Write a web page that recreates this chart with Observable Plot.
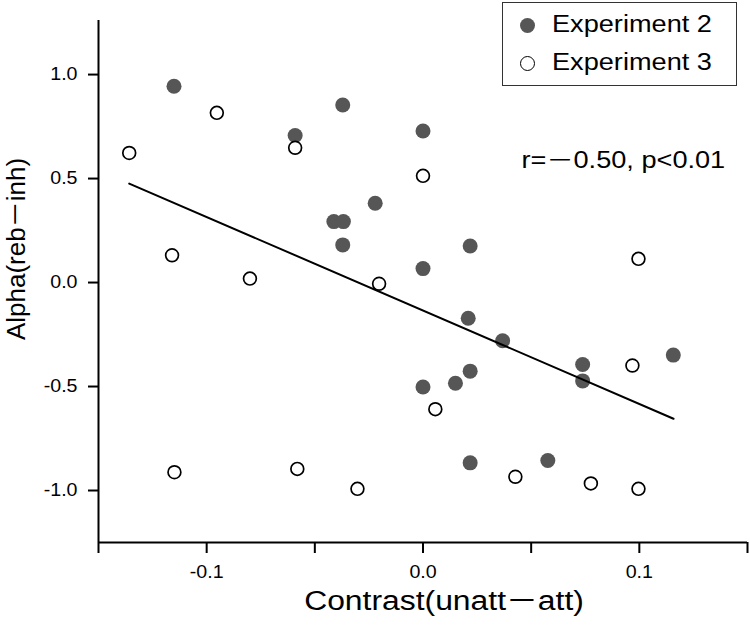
<!DOCTYPE html>
<html>
<head>
<meta charset="utf-8">
<script src="https://cdn.jsdelivr.net/npm/d3@7"></script>
<script src="https://cdn.jsdelivr.net/npm/@observablehq/plot@0.6"></script>
<style>
  body { margin: 0; background: #fff; }
  #wrap { position: relative; width: 750px; height: 635px; font-family: "Liberation Sans", Arial, "Noto Sans CJK SC", sans-serif; }
  #wrap svg { position: absolute; left: 0; top: 0; }
  #legend { position: absolute; left: 502px; top: 2px; width: 233px; height: 82px; border: 1.5px solid #333; background: #fff; }
  .lg-dot { position: absolute; width: 15px; height: 15px; border-radius: 50%; box-sizing: border-box; }
  .lg-lab { position: absolute; font-size: 23px; line-height: 24px; white-space: nowrap; color: #000; transform-origin: left center; transform: scaleX(1.18); }
  #ytitle { position: absolute; left: 16px; top: 249px; font-size: 26px; line-height: 26px; white-space: nowrap; color: #000; transform: translate(-50%, -50%) rotate(-90deg); }
</style>
</head>
<body>
<div id="wrap"></div>
<script>
// ---- data ----
const seriesNames = ["Experiment 2", "Experiment 3"];

// Experiment 2 (filled circles)
const exp2X = [-0.1151, -0.0591, -0.0371, 0.0000, -0.0221, -0.0412, -0.0368, -0.0371, 0.0218, 0.0000,
               0.0209, 0.0368, 0.0738, 0.0738, 0.1157, 0.0218, 0.0150, 0.0000, 0.0218, 0.0577];
const exp2Y = [0.944, 0.707, 0.854, 0.729, 0.381, 0.293, 0.293, 0.181, 0.176, 0.067,
               -0.172, -0.280, -0.394, -0.473, -0.349, -0.426, -0.484, -0.502, -0.867, -0.856];

// Experiment 3 (open circles)
const exp3X = [-0.1358, -0.0953, -0.0591, 0.0000, -0.1160, -0.0800, -0.0203, 0.0996, 0.0968, 0.0057,
               -0.1149, -0.0581, -0.0303, 0.0427, 0.0776, 0.0996];
const exp3Y = [0.623, 0.816, 0.648, 0.513, 0.131, 0.019, -0.006, 0.114, -0.399, -0.609,
               -0.912, -0.896, -0.992, -0.934, -0.966, -0.992];

// fitted regression line (end points)
const fitX = [-0.1358, 0.1158];
const fitY = [0.476, -0.655];

const xDomain = [-0.15, 0.15];
const yDomain = [-1.25, 1.26];
const xTicks = [-0.15, -0.1, -0.05, 0, 0.05, 0.1, 0.15];
const xTickLabels = ["", "-0.1", "", "0.0", "", "0.1", ""];
const yTicks = [-1, -0.5, 0, 0.5, 1];
const yTickLabels = ["-1.0", "-0.5", "0.0", "0.5", "1.0"];

const xTitle = "Contrast(unatt\uFF0Datt)";
const yTitle = "Alpha(reb\uFF0Dinh)";
const statText = "r=\uFF0D0.50, p<0.01";

// ---- build tables ----
const exp2 = exp2X.map((x, i) => ({x, y: exp2Y[i], series: seriesNames[0]}));
const exp3 = exp3X.map((x, i) => ({x, y: exp3Y[i], series: seriesNames[1]}));
const fit = fitX.map((x, i) => ({x, y: fitY[i]}));

const FONT = '"Liberation Sans", Arial, "Noto Sans CJK SC", sans-serif';

const chart = Plot.plot({
  width: 750,
  height: 635,
  marginLeft: 98,
  marginRight: 3,
  marginTop: 20,
  marginBottom: 93,
  x: {domain: xDomain},
  y: {domain: yDomain},
  style: {fontFamily: FONT, fontSize: "18px", color: "#000", background: "#fff", overflow: "visible"},
  marks: [
    Plot.axisX({ticks: xTicks, tickFormat: d => xTickLabels[xTicks.indexOf(d)], tickSize: 11, tickPadding: 12,
                strokeWidth: 2, label: null, fontSize: 18, fill: "#000"}),
    Plot.axisY({ticks: yTicks, tickFormat: d => yTickLabels[yTicks.indexOf(d)], tickSize: 10, tickPadding: 11,
                strokeWidth: 2, label: null, fontSize: 18, fill: "#000"}),
    Plot.ruleX([xDomain[0]], {stroke: "#000", strokeWidth: 2}),
    Plot.ruleY([yDomain[0]], {stroke: "#000", strokeWidth: 2}),
    Plot.dot(exp2, {x: "x", y: "y", r: 7.5, fill: "#565656", stroke: "none"}),
    Plot.line(fit, {x: "x", y: "y", stroke: "#000", strokeWidth: 2}),
    Plot.dot(exp3, {x: "x", y: "y", r: 6.4, fill: "#fff", stroke: "#000", strokeWidth: 1.7}),
    Plot.text([statText], {frameAnchor: "top-left", textAnchor: "start", dx: 423, dy: 131, fontSize: 23, fill: "#000"}),
    Plot.text([xTitle], {frameAnchor: "bottom", dx: 21, dy: 67, fontSize: 27, fill: "#000"})
  ]
});

const wrap = document.getElementById("wrap");
wrap.appendChild(chart);

// horizontal widening of the horizontal texts, as in the reference
chart.querySelectorAll("text").forEach(t => {
  const L = t.getComputedTextLength();
  if (L > 0) {
    const fs = parseFloat(getComputedStyle(t).fontSize);
    const k = fs < 20 ? 1.09 : 1.18;
    t.setAttribute("textLength", (L * k).toFixed(2));
    t.setAttribute("lengthAdjust", "spacingAndGlyphs");
  }
});

// y title (rotated)
const yt = document.createElement("div");
yt.id = "ytitle";
yt.textContent = yTitle;
wrap.appendChild(yt);

// legend box (inside the plot area, top right)
const legend = document.createElement("div");
legend.id = "legend";
wrap.appendChild(legend);
const legendItems = [
  {name: seriesNames[0], cy: 25, fill: "#565656", border: "none"},
  {name: seriesNames[1], cy: 63, fill: "#fff", border: "1.7px solid #000"}
];
legendItems.forEach(it => {
  const d = document.createElement("div");
  d.className = "lg-dot";
  d.style.left = (527 - 7.5) + "px";
  d.style.top = (it.cy - 7.5) + "px";
  d.style.background = it.fill;
  d.style.border = it.border;
  wrap.appendChild(d);
  const s = document.createElement("div");
  s.className = "lg-lab";
  s.textContent = it.name;
  s.style.left = "552px";
  s.style.top = (it.cy - 13) + "px";
  wrap.appendChild(s);
});
</script>
</body>
</html>
